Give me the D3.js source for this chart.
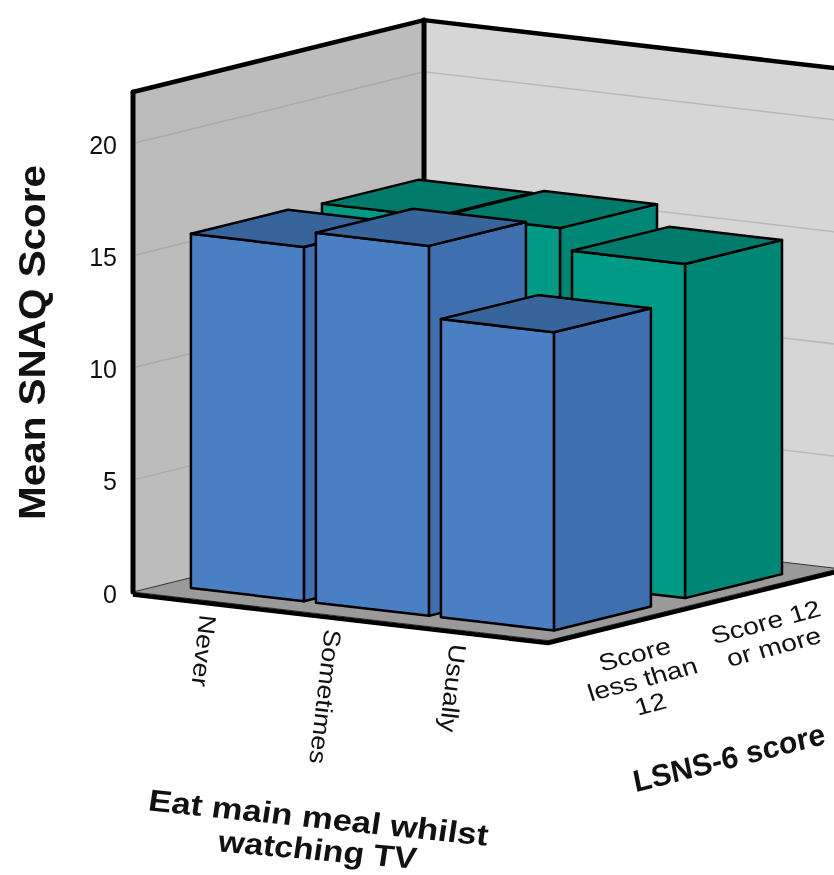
<!DOCTYPE html>
<html>
<head>
<meta charset="utf-8">
<script src="https://cdn.jsdelivr.net/npm/d3@7"></script>
<style>
  body { margin: 0; background: #fff; }
  svg { display: block; filter: blur(0.5px); }
  text { font-family: "Liberation Sans", Arial, sans-serif; fill: #111; }
</style>
</head>
<body>
<svg width="834" height="875"></svg>
<script>
const categories = ['Never', 'Sometimes', 'Usually'];
const groups = ['Score less than 12', 'Score 12 or more'];
const groupLabelLines = [['Score', 'less than', '12'], ['Score 12', 'or more']];
const lessThan12 = [15.8, 16.5, 13.3];
const twelveOrMore = [15.7, 15.85, 14.9];
const yTicks = [0, 5, 10, 15, 20];
const yTop = 22.3;

const svg = d3.select('svg');

// floor origin and the two floor directions of the fake 3d box
const origin = [133, 592];
const [uLen, vLen] = [415, 291];
const [uSlope, vSlope] = [0.117, -0.247];

const uScale = d3.scaleBand().domain(categories).range([0, uLen])
  .paddingInner(0.096).paddingOuter(0.208).align(0.545);
const vScale = d3.scaleBand().domain(groups).range([0, vLen])
  .paddingInner(0.26).paddingOuter(0.24).align(0.47);
const yScale = d3.scaleLinear().domain([0, yTop]).range([0, 500]);

const project = (u, v, val = 0) => [
  origin[0] + u + v,
  origin[1] + u * uSlope + v * vSlope - yScale(val)
];
const poly = pts => pts.map(p => p.join(',')).join(' ');

function addPoly(pts, fill, stroke, width) {
  svg.append('polygon')
    .attr('points', poly(pts))
    .attr('fill', fill)
    .attr('stroke', stroke || 'none')
    .attr('stroke-width', width || 0)
    .attr('stroke-linejoin', 'round');
}
function addLine(a, b, stroke, width) {
  svg.append('line')
    .attr('x1', a[0]).attr('y1', a[1])
    .attr('x2', b[0]).attr('y2', b[1])
    .attr('stroke', stroke)
    .attr('stroke-width', width)
    .attr('stroke-linecap', 'round');
}

// walls
addPoly([project(0, 0), project(0, vLen), project(0, vLen, yTop), project(0, 0, yTop)], '#bcbcbc');
addPoly([project(0, vLen), project(uLen, vLen), project(uLen, vLen, yTop), project(0, vLen, yTop)], '#d6d6d6');

// gridlines
yTicks.filter(d => d > 0).forEach(d => {
  addLine(project(0, 0, d), project(0, vLen, d), '#a9a9a9', 1.5);
  addLine(project(0, vLen, d), project(uLen, vLen, d), '#b8b8b8', 1.5);
});

// floor
addPoly([project(0, 0), project(0, vLen), project(uLen, vLen), project(uLen, 0)], '#9a9a9a', '#333', 1);
svg.append('polyline')
  .attr('points', poly([project(0, 0), project(uLen, 0), project(uLen, vLen)].map(p => [p[0], p[1] + 2.5])))
  .attr('fill', 'none')
  .attr('stroke', '#000')
  .attr('stroke-width', 4.5)
  .attr('stroke-linejoin', 'round');

// wall outlines
addLine(project(0, 0), project(0, 0, yTop), '#000', 5);
addLine(project(0, 0, yTop), project(0, vLen, yTop), '#000', 4.5);
addLine(project(0, vLen, yTop), project(uLen, vLen, yTop), '#000', 4.5);
addLine(project(0, vLen), project(0, vLen, yTop), '#000', 5);

// bars, back row first so the front row paints over it
function drawBar(cat, group, val, colors) {
  const u0 = uScale(cat), u1 = u0 + uScale.bandwidth();
  const v0 = vScale(group), v1 = v0 + vScale.bandwidth();
  const style = ['#000', 2.5];
  addPoly([project(u1, v0), project(u1, v1), project(u1, v1, val), project(u1, v0, val)], colors.side, ...style);
  addPoly([project(u0, v0), project(u1, v0), project(u1, v0, val), project(u0, v0, val)], colors.front, ...style);
  addPoly([project(u0, v0, val), project(u1, v0, val), project(u1, v1, val), project(u0, v1, val)], colors.top, ...style);
}
const teal = { front: '#009a85', side: '#008675', top: '#007a6a' };
const blue = { front: '#4a7fc4', side: '#3f6fae', top: '#38649c' };
categories.forEach((c, i) => drawBar(c, groups[1], twelveOrMore[i], teal));
categories.forEach((c, i) => drawBar(c, groups[0], lessThan12[i], blue));

// y axis
const yAxisScale = d3.scaleLinear().domain([0, yTop]).range([origin[1], origin[1] - 500]);
const yAxis = svg.append('g')
  .attr('transform', `translate(${origin[0]},2)`)
  .call(d3.axisLeft(yAxisScale).tickValues(yTicks).tickSize(0).tickPadding(16));
yAxis.select('.domain').remove();
yAxis.selectAll('text').style('font-size', '25px').style('font-family', '"Liberation Sans", sans-serif');

svg.append('text')
  .attr('transform', 'translate(45,520) rotate(-90)')
  .style('font-size', '36px')
  .style('font-weight', 'bold')
  .attr('textLength', 355)
  .attr('lengthAdjust', 'spacingAndGlyphs')
  .text('Mean SNAQ Score');

// category labels, warped to lie along the floor
categories.forEach(c => {
  const p = project(uScale(c) + uScale.bandwidth() / 2, 0);
  svg.append('text')
    .attr('transform', `matrix(-0.13,1.12,-1,-0.117,${p[0] - 18},${p[1] + 12})`)
    .style('font-size', '24px')
    .text(c);
});

groupLabelLines.forEach((lines, i) => {
  const p = project(uLen, vScale(groups[i]) + vScale.bandwidth() / 2);
  const t = svg.append('text')
    .attr('transform', `matrix(1.13,-0.3,0.305,0.952,${p[0] + 11},${p[1] + 41})`)
    .attr('text-anchor', 'middle')
    .style('font-size', '24px');
  lines.forEach((line, k) => {
    t.append('tspan').attr('x', 0).attr('dy', k ? 26 : 0).text(line);
  });
});

// axis titles
function title(str, m) {
  svg.append('text')
    .attr('transform', `matrix(${m.join(',')})`)
    .attr('text-anchor', 'middle')
    .style('font-size', '30px')
    .style('font-weight', 'bold')
    .text(str);
}
title('Eat main meal whilst', [1.15, 0.12, -0.15, 1, 317, 828]);
title('watching TV', [1.12, 0.1, -0.15, 1, 316, 860]);
title('LSNS-6 score', [0.98, -0.25, 0.2, 1, 731, 768]);
</script>
</body>
</html>
